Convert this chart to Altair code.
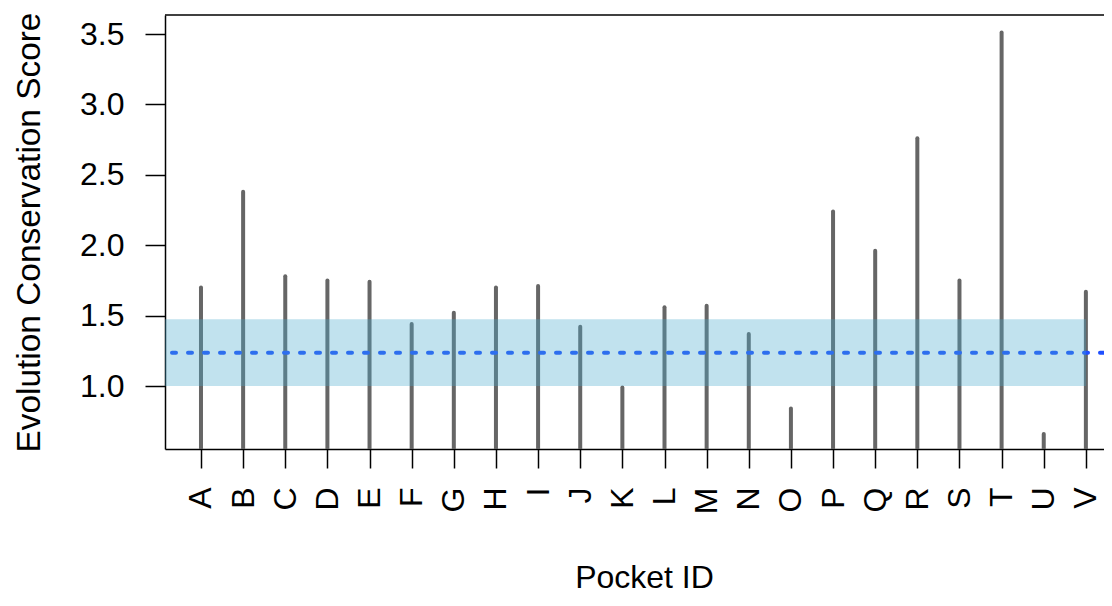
import altair as alt
import pandas as pd

# ---- data ----
pocket_ids = list("ABCDEFGHIJKLMNOPQRSTUV")
scores = [1.70, 2.38, 1.78, 1.75, 1.74, 1.44, 1.52, 1.70, 1.71, 1.42, 0.99,
          1.56, 1.57, 1.37, 0.84, 2.24, 1.96, 2.76, 1.75, 3.51, 0.66, 1.67]
band_low = [1.0]
band_high = [1.474]
band_end = [22]
mean_line = [1.237]
y_ticks = [1.0, 1.5, 2.0, 2.5, 3.0, 3.5]

# ---- layout ----
W, H = 939, 434
XMIN, XMAX = 0.146, 22.43
YMIN, YMAX = 0.5526, 3.635
FONT = "Liberation Sans"
FS = 32

df = pd.DataFrame({"idx": list(range(1, len(pocket_ids) + 1)),
                   "pocket": pocket_ids, "score": scores})
df_band = pd.DataFrame({"lo": band_low, "hi": band_high,
                        "x0": [XMIN], "x1": band_end})
df_mean = pd.DataFrame({"m": mean_line})

label_arr = "[" + ",".join("'%s'" % p for p in pocket_ids) + "]"

xscale = alt.Scale(domain=[XMIN, XMAX], nice=False, zero=False)
yscale = alt.Scale(domain=[YMIN, YMAX], nice=False, zero=False)

xaxis = alt.Axis(values=list(range(1, len(pocket_ids) + 1)),
                 labelExpr=label_arr + "[datum.value-1]",
                 labelAngle=270, labelPadding=19, tickSize=19,
                 grid=False, title="Pocket ID",
                 titleX=479, titleY=128, titleBaseline="middle",
                 titleAlign="center")
yaxis = alt.Axis(values=y_ticks, format=".1f", tickSize=20, labelPadding=21,
                 grid=False, title="Evolution Conservation Score",
                 titleAngle=270, titleX=-136, titleY=217, titleFontSize=33.4,
                 titleBaseline="middle", titleAlign="center")

bars = alt.Chart(df).mark_rule(color="#666666", strokeWidth=4,
                               strokeCap="round", clip=True).encode(
    x=alt.X("idx:Q", scale=xscale, axis=xaxis),
    y=alt.Y("score:Q", scale=yscale, axis=yaxis),
    y2=alt.datum(YMIN),
)

mean = alt.Chart(df_mean).mark_rule(color="#1f4fff", strokeWidth=4,
                                     strokeDash=[4, 12], strokeCap="round").encode(
    y=alt.Y("m:Q", scale=yscale)
)

band = alt.Chart(df_band).mark_rect(color="#49aace", opacity=0.34, clip=True).encode(
    x=alt.X("x0:Q", scale=xscale),
    x2="x1:Q",
    y=alt.Y("lo:Q", scale=yscale),
    y2="hi:Q",
)

top_border = alt.Chart(pd.DataFrame({"a": [0]})).mark_rule(
    color="black", strokeWidth=1.5).encode(
    x=alt.value(0), x2=alt.value(W), y=alt.value(0))

chart = alt.layer(bars, mean, band, top_border).properties(
    width=W, height=H,
    autosize=alt.AutoSizeParams(type="none"),
    padding={"left": 157, "top": 7, "right": 0, "bottom": 149},
).configure(background="white").configure_view(
    stroke="transparent"
).configure_axis(
    domainColor="black", domainWidth=1.5, tickColor="black", tickWidth=1.5,
    labelFont=FONT, labelFontSize=FS, labelColor="black",
    titleFont=FONT, titleFontSize=FS, titleColor="black", titleFontWeight="normal",
)

chart.save("out.html", embed_options={"renderer": "svg", "actions": False})
